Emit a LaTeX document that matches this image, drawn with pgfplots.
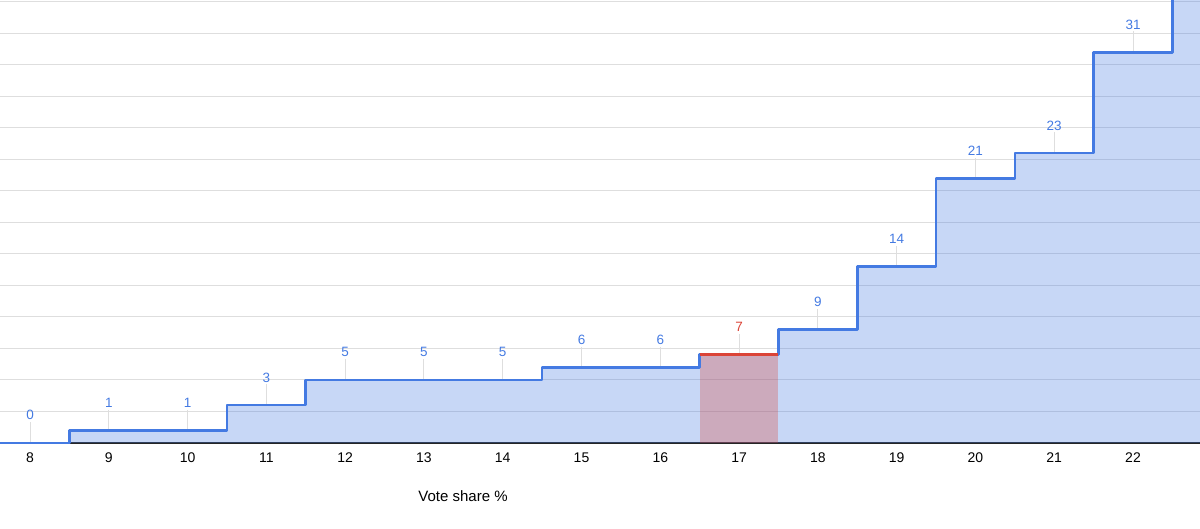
\documentclass[border=0pt]{standalone}
\usepackage{fontspec}
\setmainfont{Liberation Sans}
\usepackage{pgfplots}
\usepackage{pgfplotstable}
\pgfplotsset{compat=1.18}
\definecolor{gblue}{RGB}{68,122,226}
\definecolor{gred}{RGB}{219,68,55}
\definecolor{gridc}{RGB}{222,222,222}

\pgfplotstableread{
x y
7 0
8 0
9 1
10 1
11 3
12 5
13 5
14 5
15 6
16 6
17 7
18 9
19 14
20 21
21 23
22 31
23 40
}\steps

\pgfplotstableread{
x y lab
8 0 0
9 1 1
10 1 1
11 3 3
12 5 5
13 5 5
14 5 5
15 6 6
16 6 6
18 9 9
19 14 14
20 21 21
21 23 23
22 31 31
}\labs

\pgfplotstableread{
x y lab
17 7 7
}\redlab

\begin{document}
\begin{tikzpicture}
\begin{axis}[
  at={(0,0)}, anchor=south west,
  scale only axis, width=1200pt, height=443pt,
  xmin=7.619, xmax=22.85, ymin=0, ymax=35.15,
  axis line style={draw=none},
  ytick={2.5,5,...,35}, yticklabels={},
  ymajorgrids, grid style={gridc, line width=1pt},
  major tick length=0pt,
  xtick={8,...,22},
  xticklabel style={font=\fontsize{14}{14}\selectfont, inner sep=0pt, anchor=north, yshift=-10pt, text=black},
  extra y ticks={0}, extra y tick labels={},
  extra y tick style={grid style={black!85, line width=1.2pt}},
  clip=false,
  /pgf/number format/assume math mode=true,
]
% blue area
\addplot[const plot mark mid, draw=none, fill=gblue, fill opacity=0.3] table[x=x,y=y] {\steps} \closedcycle;
% red highlighted bar
\addplot[draw=none, fill=gred, fill opacity=0.3] coordinates {(16.5,0) (16.5,7) (17.5,7) (17.5,0)} -- cycle;
% leader lines
\addplot[draw=none, mark=none, forget plot,
  error bars/.cd, y dir=plus, y fixed=1.65, error mark=none,
  error bar style={gridc, line width=1pt}] table[x=x,y=y] {\labs};
\addplot[draw=none, mark=none, forget plot,
  error bars/.cd, y dir=plus, y fixed=1.65, error mark=none,
  error bar style={gridc, line width=1pt}] table[x=x,y=y] {\redlab};
% step line
\addplot[const plot mark mid, gblue, line width=2.6pt, line join=round] table[x=x,y=y] {\steps};
\addplot[gred, line width=2.6pt] coordinates {(16.5,7) (17.5,7)};
% labels
\addplot[draw=none, mark=none, point meta=explicit symbolic,
  nodes near coords,
  every node near coord/.append style={font=\fontsize{13.5}{13.5}\selectfont, text=gblue, anchor=base, inner sep=0pt, yshift=23pt}]
  table[x=x,y=y,meta=lab] {\labs};
\addplot[draw=none, mark=none, point meta=explicit symbolic,
  nodes near coords,
  every node near coord/.append style={font=\fontsize{13.5}{13.5}\selectfont, text=gred, anchor=base, inner sep=0pt, yshift=23pt}]
  table[x=x,y=y,meta=lab] {\redlab};
\end{axis}
\node[font=\fontsize{15}{15}\selectfont, anchor=base, text=black] at (463pt,-58.5pt) {Vote share \%};
\pgfresetboundingbox
\path[use as bounding box] (0pt,-86pt) rectangle (1200pt,443pt);
\end{tikzpicture}
\end{document}
